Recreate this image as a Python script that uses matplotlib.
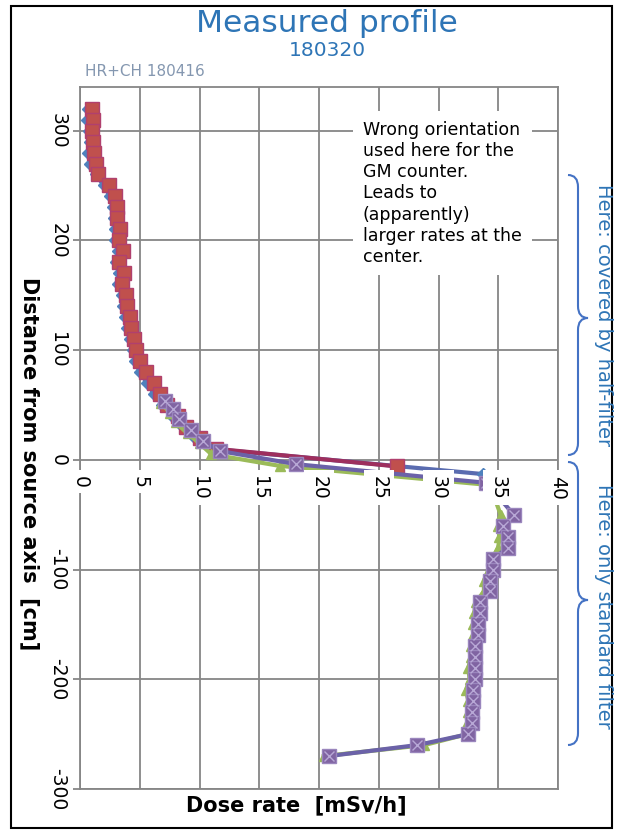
import matplotlib
matplotlib.use("Agg")
import matplotlib.pyplot as plt
import numpy as np
from matplotlib.path import Path
from matplotlib.patches import PathPatch, Rectangle
from matplotlib.transforms import Affine2D

# ---------------------------------------------------------------------------
# Measured dose rate profile (x: dose rate in mSv/h, y: distance in cm)
# ---------------------------------------------------------------------------

# run 1 (half-filter side), diamonds
blue_y = [320, 310, 300, 290, 280, 270, 260, 250, 240, 230, 220, 210, 200, 190,
          180, 170, 160, 150, 140, 130, 120, 110, 100, 90, 80, 70, 60, 50, 40,
          30, 20, 10, -13]
blue_x = [0.7, 0.6, 0.75, 0.8, 0.7, 0.85, 1.3, 2.0, 2.5, 2.75, 2.85, 2.9, 2.95,
          3.2, 3.0, 3.3, 3.2, 3.5, 3.6, 3.75, 3.95, 4.15, 4.4, 4.6, 5.0, 5.6,
          6.2, 6.9, 7.7, 8.6, 9.6, 11.0, 33.7]

# run 2 (half-filter side), squares
red_y = [320, 310, 300, 290, 280, 270, 260, 250, 240, 230, 220, 210, 200, 190,
         180, 170, 160, 150, 140, 130, 120, 110, 100, 90, 80, 70, 60, 50, 40,
         30, 20, 10, -6]
red_x = [1.0, 1.1, 1.0, 1.1, 1.15, 1.35, 1.5, 2.4, 2.9, 3.1, 3.1, 3.35, 3.25,
         3.6, 3.25, 3.7, 3.55, 3.85, 3.9, 4.2, 4.25, 4.5, 4.7, 5.05, 5.5, 6.2,
         6.7, 7.3, 8.2, 8.9, 10.0, 11.4, 26.5]

# run 3 (standard filter side), triangles
green_y = [52, 43, 34, 24, 15, 5, -5.5, -23, -50, -60, -70, -80, -90, -100,
           -110, -120, -130, -140, -150, -160, -170, -180, -190, -200, -210,
           -220, -230, -240, -250, -260, -270]
green_x = [6.8, 7.5, 8.0, 9.0, 10.0, 11.0, 16.7, 34.3, 35.2, 35.0, 35.1, 35.0,
           34.5, 34.2, 33.8, 33.8, 33.1, 33.0, 32.9, 32.9, 32.7, 32.7, 32.5,
           32.6, 32.3, 32.5, 32.5, 32.4, 32.4, 28.8, 20.4]

# run 4 (standard filter side), crossed squares
purple_y = [54, 46, 37, 27, 17, 8, -4, -21, -50, -60, -70, -80, -90, -100,
            -110, -120, -130, -140, -150, -160, -170, -180, -190, -200, -210,
            -220, -230, -240, -250, -260, -270]
purple_x = [7.1, 7.8, 8.3, 9.3, 10.3, 11.7, 18.1, 34.0, 36.3, 35.4, 35.8, 35.8,
            34.6, 34.6, 34.3, 34.3, 33.5, 33.5, 33.3, 33.3, 33.05, 33.05, 33.05,
            33.05, 32.9, 32.9, 32.8, 32.8, 32.5, 28.2, 20.8]

x_ticks = [0, 5, 10, 15, 20, 25, 30, 35, 40]
y_ticks = [-300, -200, -100, 0, 100, 200, 300]

note = ("Wrong orientation\nused here for the\nGM counter.\nLeads to\n"
        "(apparently)\nlarger rates at the\ncenter.")

W, H = 619, 833
GRID = "#868686"
BLUE_TXT = "#2e75b6"

plt.rcParams["font.family"] = ["DejaVu Sans"]
plt.rcParams["axes.unicode_minus"] = False

fig = plt.figure(figsize=(W / 100, H / 100), dpi=100)
pix = Affine2D().scale(1 / W, -1 / H).translate(0, 1) + fig.transFigure


def rect(x0, y0, x1, y1):
    return [x0 / W, 1 - y1 / H, (x1 - x0) / W, (y1 - y0) / H]


ax = fig.add_axes(rect(80, 86.7, 558, 789))
ax.set_xlim(0, 40)
ax.set_ylim(-300, 340)
ax.set_xticks(x_ticks)
ax.set_yticks(y_ticks)
ax.grid(True, color=GRID, lw=1.3)
ax.set_axisbelow(True)
for s in ax.spines.values():
    s.set_color(GRID)
    s.set_linewidth(1.3)
ax.tick_params(axis="x", length=0, labelbottom=False)
ax.tick_params(axis="y", length=5, width=1.3, color=GRID, labelsize=13.5,
               pad=4, labelrotation=-90)
for lbl in ax.get_yticklabels():
    lbl.set_va("center")

ax.plot(blue_x, blue_y, color="#5a6cb0", lw=3, marker="D", ms=6,
        mfc="#4f81bd", mec="#4f81bd", zorder=3)
ax.plot(red_x, red_y, color="#9e2f5e", lw=3, marker="s", ms=9.5,
        mfc="#c0504d", mec="#b0406e", mew=1, zorder=4)
ax.plot(green_x, green_y, color="#9bbb59", lw=3, marker="^", ms=7,
        mfc="#9bbb59", mec="#9bbb59", zorder=5)
ax.plot(purple_x, purple_y, color="#6b62a8", lw=3, marker="s", ms=9.5,
        mfc="#8064a2", mec="#9a86bd", mew=1, zorder=6)
ax.plot(purple_x, purple_y, ls="none", marker="x", ms=7.5, mec="#b8a8d6",
        mew=1, zorder=7)

ax.set_xlabel("Dose rate  [mSv/h]", fontsize=15, fontweight="bold", va="center")
ax.xaxis.set_label_coords(0.452, -0.023)
ax.set_ylabel("Distance from source axis  [cm]", fontsize=15,
              fontweight="bold", rotation=-90, va="center", ha="center")
ax.yaxis.set_label_coords(-0.105, 0.463)

ax.text(0.592, 0.848, note, transform=ax.transAxes, fontsize=12.5,
        ha="left", va="center", linespacing=1.22, zorder=10,
        bbox=dict(facecolor="white", edgecolor="none", pad=7))

# dose-rate tick labels sit on the zero line, above the curves
ax2 = fig.add_axes(ax.get_position(), sharex=ax, sharey=ax)
ax2.set_zorder(1)
ax2.patch.set_visible(False)
for s in ax2.spines.values():
    s.set_visible(False)
ax2.spines["bottom"].set_position(("data", 0))
ax2.grid(False)
ax2.tick_params(axis="y", left=False, labelleft=False)
ax2.tick_params(axis="x", length=0, pad=11.5, labelsize=13.5, labelrotation=-90)
for lbl in ax2.get_xticklabels():
    lbl.set_va("top")
    lbl.set_ha("center")
    lbl.set_bbox(dict(facecolor="white", edgecolor="none", pad=4))

# titles
fig.text(327, 23, "Measured profile", transform=pix, fontsize=22.5,
         color=BLUE_TXT, ha="center", va="center")
fig.text(327, 51, "180320", transform=pix, fontsize=14.5, color=BLUE_TXT,
         ha="center", va="center")
fig.text(85, 72, "HR+CH 180416", transform=pix, fontsize=11, color="#8497b0",
         ha="left", va="center")


def brace(y_top, y_tip, y_bot, x_end=568, x_mid=578, x_tip=588, r=12):
    verts = [(x_end, y_top), (x_mid, y_top), (x_mid, y_top + r),
             (x_mid, y_tip - r), (x_mid, y_tip), (x_tip, y_tip),
             (x_mid, y_tip), (x_mid, y_tip + r),
             (x_mid, y_bot - r), (x_mid, y_bot), (x_end, y_bot)]
    codes = [Path.MOVETO, Path.CURVE3, Path.CURVE3, Path.LINETO,
             Path.CURVE3, Path.CURVE3, Path.CURVE3, Path.CURVE3,
             Path.LINETO, Path.CURVE3, Path.CURVE3]
    fig.patches.append(PathPatch(Path(verts, codes), transform=pix,
                                 fill=False, ec="#4472c4", lw=1.5))


brace(175, 318, 455)
brace(462, 600, 745)
fig.text(604, 315, "Here: covered by half-filter", transform=pix,
         fontsize=14, color=BLUE_TXT, rotation=-90, ha="center", va="center")
fig.text(604, 606, "Here: only standard filter", transform=pix,
         fontsize=14, color=BLUE_TXT, rotation=-90, ha="center", va="center")

# frame around the whole sheet
fig.patches.append(Rectangle((11, 6), 601, 822, transform=pix, fill=False,
                             ec="black", lw=1.5))

fig.savefig("out.png", dpi=100)
